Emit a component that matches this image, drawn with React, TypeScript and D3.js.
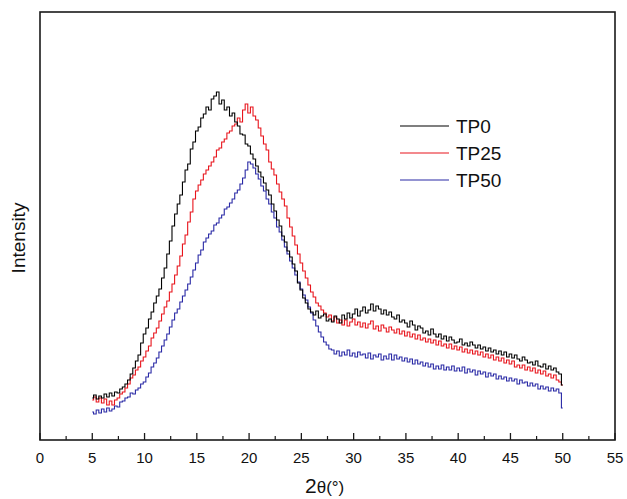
import React from 'react';
import * as d3 from 'd3';

// 2θ sampling: 5° to 50° every 0.25°
const THETA_START = 5;
const THETA_STEP = 0.25;

const TP0 = [
  42, 45, 41, 44, 42, 46, 43, 47, 44, 48, 47, 51, 53, 56, 60, 66, 72, 79, 85, 97,
  106, 112, 121, 128, 137, 144, 151, 162, 172, 186, 199, 214, 226, 236, 245, 258, 270, 276, 291, 298,
  309, 313, 322, 326, 333, 330, 341, 344, 348, 336, 340, 330, 333, 324, 327, 318, 314, 306, 305, 296,
  294, 286, 281, 274, 268, 263, 257, 250, 245, 236, 229, 220, 214, 204, 198, 189, 183, 176, 169, 157,
  150, 142, 137, 131,
  128, 125, 129, 122, 124, 126, 119, 121, 118, 124, 121, 117, 125, 121, 127, 122,
  126, 131, 124, 129, 133, 127, 130, 136, 129, 134, 131, 126, 130, 125, 128, 123,
  121, 125, 118, 120, 117, 113, 119, 115, 110, 114, 112, 107, 109, 105, 111, 106,
  103, 106, 101, 104, 99, 103, 100, 97, 98, 101, 95, 97, 94, 98, 95, 92,
  95, 91, 93, 89, 92, 88, 90, 86, 89, 85, 88, 83, 86, 82, 85, 81,
  79, 83, 80, 77, 78, 75, 79, 74, 73, 76, 71, 74, 70, 72, 68, 66,
  55,
];

const TP25 = [
  40, 43, 38, 42, 37, 41, 35, 39, 35, 40, 42, 46, 48, 52, 56, 62, 65, 70, 73, 79,
  83, 89, 94, 102, 107, 112, 119, 126, 133, 139, 148, 156, 165, 174, 184, 196, 205, 218, 228, 241,
  249, 255, 260, 266, 270, 274, 278, 283, 290, 292, 298, 301, 307, 309, 314, 316, 322, 318, 330, 336,
  327, 333, 324, 320, 312, 304, 296, 290, 278, 271, 265, 256, 248, 241, 234, 222, 213, 204, 195, 186,
  177, 169, 162, 155,
  148, 143, 137, 134, 130, 127, 123, 125, 119, 123, 117, 120, 115, 120, 114, 118,
  121, 115, 118, 113, 117, 112, 116, 119, 111, 114, 109, 115, 112, 108, 113, 110,
  107, 111, 106, 109, 104, 108, 103, 106, 101, 105, 100, 102, 98, 101, 97, 100,
  95, 99, 94, 96, 92, 96, 91, 94, 90, 93, 88, 91, 87, 90, 86, 89,
  85, 88, 83, 86, 82, 85, 80, 83, 79, 82, 77, 80, 76, 79, 73, 75,
  72, 75, 70, 73, 69, 72, 67, 70, 66, 69, 64, 66, 62, 65, 60, 58,
  55,
];

const TP50 = [
  28, 26, 30, 27, 31, 28, 32, 29, 31, 34, 33, 38, 39, 42, 43, 47, 46, 50, 52, 56,
  58, 63, 67, 73, 77, 82, 88, 94, 100, 106, 113, 120, 127, 131, 138, 144, 150, 156, 163, 170,
  177, 185, 190, 198, 202, 206, 209, 215, 217, 222, 225, 231, 233, 237, 241, 247, 250, 256, 262, 270,
  278, 276, 272, 266, 261, 254, 249, 241, 236, 228, 222, 213, 208, 200, 193, 186, 179, 172, 165, 158,
  151, 145, 140, 133,
  127, 120, 114, 108, 103, 98, 95, 91, 90, 86, 89, 84, 88, 85, 90, 84,
  87, 83, 88, 85, 86, 82, 87, 81, 85, 83, 86, 80, 84, 81, 86, 80,
  85, 81, 83, 79, 82, 78, 81, 76, 80, 76, 78, 74, 77, 73, 76, 71,
  74, 71, 75, 70, 73, 70, 74, 69, 72, 69, 73, 67, 71, 68, 70, 65,
  69, 66, 68, 63, 67, 64, 66, 61, 64, 61, 63, 59, 62, 59, 61, 56,
  60, 57, 58, 54, 57, 54, 56, 51, 54, 51, 53, 49, 52, 49, 51, 47,
  32,
];

const SERIES_NAMES = ['TP0', 'TP25', 'TP50'];
const SERIES_COLORS = ['#000000', '#e8141c', '#2a2aa6'];
const X_TICKS = [0, 5, 10, 15, 20, 25, 30, 35, 40, 45, 50, 55];
const X_MINOR_TICKS = [2.5, 7.5, 12.5, 17.5, 22.5, 27.5, 32.5, 37.5, 42.5, 47.5, 52.5];

const FONT = 'Liberation Sans, Arial, Helvetica, sans-serif';

export default function App() {
  const W = 627;
  const H = 499;
  const left = 40;
  const right = 615;
  const top = 12;
  const bottom = 440;

  const x = d3.scaleLinear().domain([0, 55]).range([left, right]);
  const y = d3.scaleLinear().domain([0, 428]).range([bottom, top]);

  const line = d3
    .line<number>()
    .x((_, i) => x(THETA_START + i * THETA_STEP))
    .y((d) => y(d))
    .curve(d3.curveStep);

  const series = [TP0, TP25, TP50];
  const drawOrder = [2, 1, 0];

  return (
    <svg
      width={W}
      height={H}
      viewBox={`0 0 ${W} ${H}`}
      style={{ position: 'absolute', left: 0, top: 0, background: '#fff' }}
    >
      <rect x={0} y={0} width={W} height={H} fill="#fff" />
      {drawOrder.map((si) => (
        <path
          key={SERIES_NAMES[si]}
          d={line(series[si]) || ''}
          fill="none"
          stroke={SERIES_COLORS[si]}
          strokeWidth={1.1}
        />
      ))}
      {/* frame */}
      <rect
        x={left}
        y={top}
        width={right - left}
        height={bottom - top}
        fill="none"
        stroke="#1a1a1a"
        strokeWidth={1.6}
      />
      {/* ticks */}
      {X_TICKS.map((t) => (
        <g key={`t${t}`}>
          <line x1={x(t)} x2={x(t)} y1={bottom} y2={bottom - 7} stroke="#1a1a1a" strokeWidth={1.3} />
          <text
            x={x(t)}
            y={463}
            textAnchor="middle"
            fontFamily={FONT}
            fontSize={15}
            fill="#111"
          >
            {t}
          </text>
        </g>
      ))}
      {X_MINOR_TICKS.map((t) => (
        <line
          key={`m${t}`}
          x1={x(t)}
          x2={x(t)}
          y1={bottom}
          y2={bottom - 4}
          stroke="#1a1a1a"
          strokeWidth={1.2}
        />
      ))}
      {/* axis titles */}
      <text x={305} y={493} fontFamily={FONT} fill="#111">
        <tspan fontSize={21}>2</tspan>
        <tspan fontSize={17}>θ(°)</tspan>
      </text>
      <text
        transform={`translate(25, 238) rotate(-90)`}
        textAnchor="middle"
        fontFamily={FONT}
        fontSize={19}
        fill="#111"
      >
        Intensity
      </text>
      {/* legend */}
      {SERIES_NAMES.map((name, i) => (
        <g key={`lg${name}`}>
          <line
            x1={400}
            x2={449}
            y1={126 + i * 27}
            y2={126 + i * 27}
            stroke={SERIES_COLORS[i]}
            strokeWidth={1.2}
          />
          <text x={456} y={133 + i * 27} fontFamily={FONT} fontSize={19} fill="#111">
            {name}
          </text>
        </g>
      ))}
    </svg>
  );
}
